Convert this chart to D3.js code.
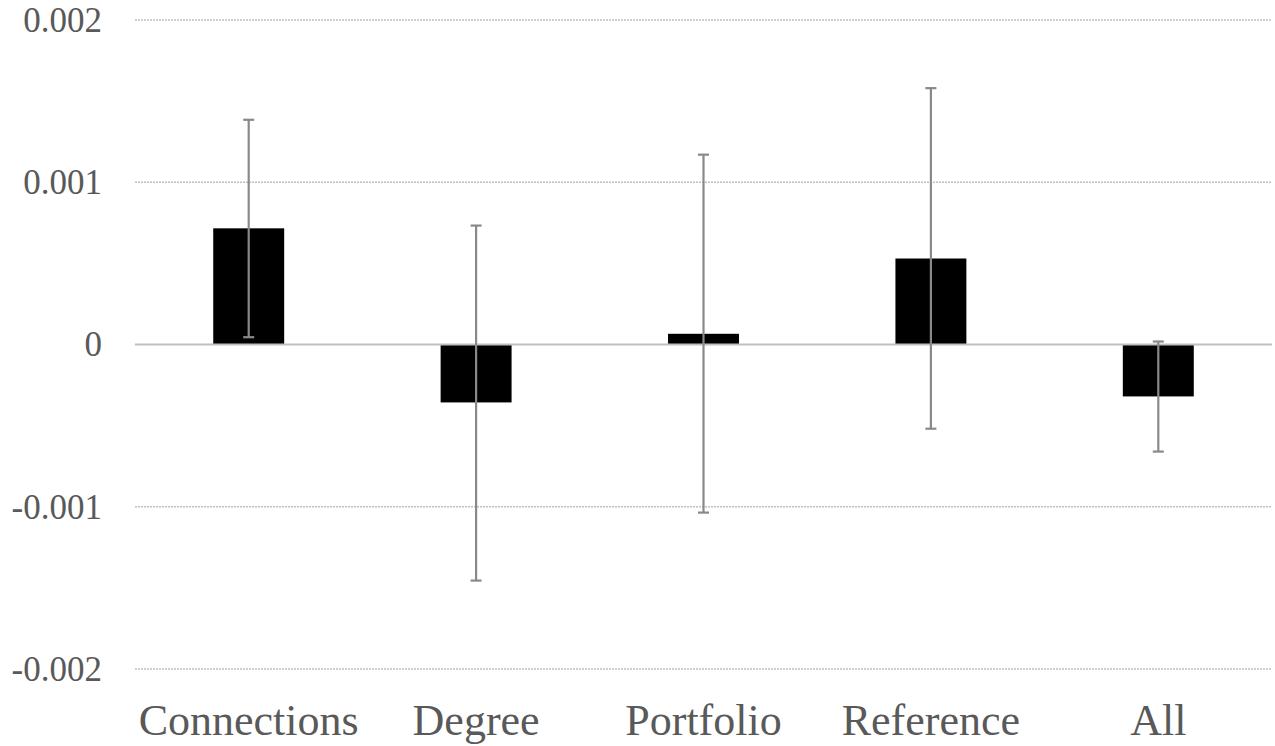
<!DOCTYPE html>
<html>
<head>
<meta charset="utf-8">
<script src="https://cdn.jsdelivr.net/npm/d3@7"></script>
<style>
  body { margin: 0; background: #fff; }
</style>
</head>
<body>
<svg id="chart" width="1275" height="746"></svg>
<script>
// values
var categories = ["Connections", "Degree", "Portfolio", "Reference", "All"];
var values     = [0.000716, -0.000357, 0.000066, 0.00053, -0.00032];
var errHigh    = [0.001385, 0.000733, 0.00117, 0.00158, 0.0000185];
var errLow     = [0.000045, -0.001455, -0.001036, -0.000519, -0.00066];
var yTicks     = [-0.002, -0.001, 0, 0.001, 0.002];
var yTickLabels = ["-0.002", "-0.001", "0", "0.001", "0.002"];

var svg = d3.select("#chart");
var margin = {top: 20, right: 3, bottom: 77, left: 135};
var width = +svg.attr("width") - margin.left - margin.right,
    height = +svg.attr("height") - margin.top - margin.bottom;

var x = d3.scaleBand().domain(categories).range([0, width]).paddingInner(0.688).paddingOuter(0.344);
var y = d3.scaleLinear().domain([-0.002, 0.002]).range([height, 0]);

var data = categories.map(function (c, i) {
  return {name: c, v: values[i], hi: errHigh[i], lo: errLow[i]};
});

var g = svg.append("g")
    .attr("transform", "translate(" + margin.left + "," + margin.top + ")");

// gridlines
g.selectAll(".grid")
    .data(yTicks.filter(function (t) { return t !== 0; }))
  .enter().append("line")
    .attr("x1", 0).attr("x2", width)
    .attr("y1", function (d) { return y(d); })
    .attr("y2", function (d) { return y(d); })
    .attr("stroke", "#c0c0c0")
    .attr("stroke-width", 1.3)
    .attr("stroke-dasharray", "2,1");

// y tick labels
g.selectAll(".ylab")
    .data(yTicks)
  .enter().append("text")
    .attr("x", -33)
    .attr("y", function (d) { return y(d); })
    .attr("dy", "0.34em")
    .attr("text-anchor", "end")
    .style("font-family", "'Liberation Serif', monospace")
    .style("font-size", "35px")
    .style("fill", "#595959")
    .text(function (d, i) { return yTickLabels[i]; });

// bars
g.selectAll(".bar")
    .data(data)
  .enter().append("rect")
    .attr("x", function (d) { return x(d.name); })
    .attr("width", x.bandwidth())
    .attr("y", function (d) { return y(Math.max(0, d.v)); })
    .attr("height", function (d) { return Math.abs(y(d.v) - y(0)); })
    .attr("fill", "#000");

// zero line
g.append("line")
    .attr("x1", 0).attr("x2", width)
    .attr("y1", y(0)).attr("y2", y(0))
    .attr("stroke", "#bfbfbf")
    .attr("stroke-width", 2);

// error bars
var eb = g.selectAll(".err").data(data).enter().append("g")
    .attr("stroke", "#898989").attr("stroke-width", 2.2);
eb.append("line")
    .attr("x1", function (d) { return x(d.name) + x.bandwidth() / 2; })
    .attr("x2", function (d) { return x(d.name) + x.bandwidth() / 2; })
    .attr("y1", function (d) { return y(d.hi); })
    .attr("y2", function (d) { return y(d.lo); });
["hi", "lo"].forEach(function (k) {
  eb.append("line")
    .attr("x1", function (d) { return x(d.name) + x.bandwidth() / 2 - 5.5; })
    .attr("x2", function (d) { return x(d.name) + x.bandwidth() / 2 + 5.5; })
    .attr("y1", function (d) { return y(d[k]); })
    .attr("y2", function (d) { return y(d[k]); });
});

// category labels
g.selectAll(".xlab")
    .data(categories)
  .enter().append("text")
    .attr("x", function (d) { return x(d) + x.bandwidth() / 2; })
    .attr("y", height + 66)
    .attr("text-anchor", "middle")
    .style("font-family", "'Liberation Serif', monospace")
    .style("font-size", "44px")
    .style("fill", "#595959")
    .text(function (d) { return d; });
</script>
</body>
</html>
